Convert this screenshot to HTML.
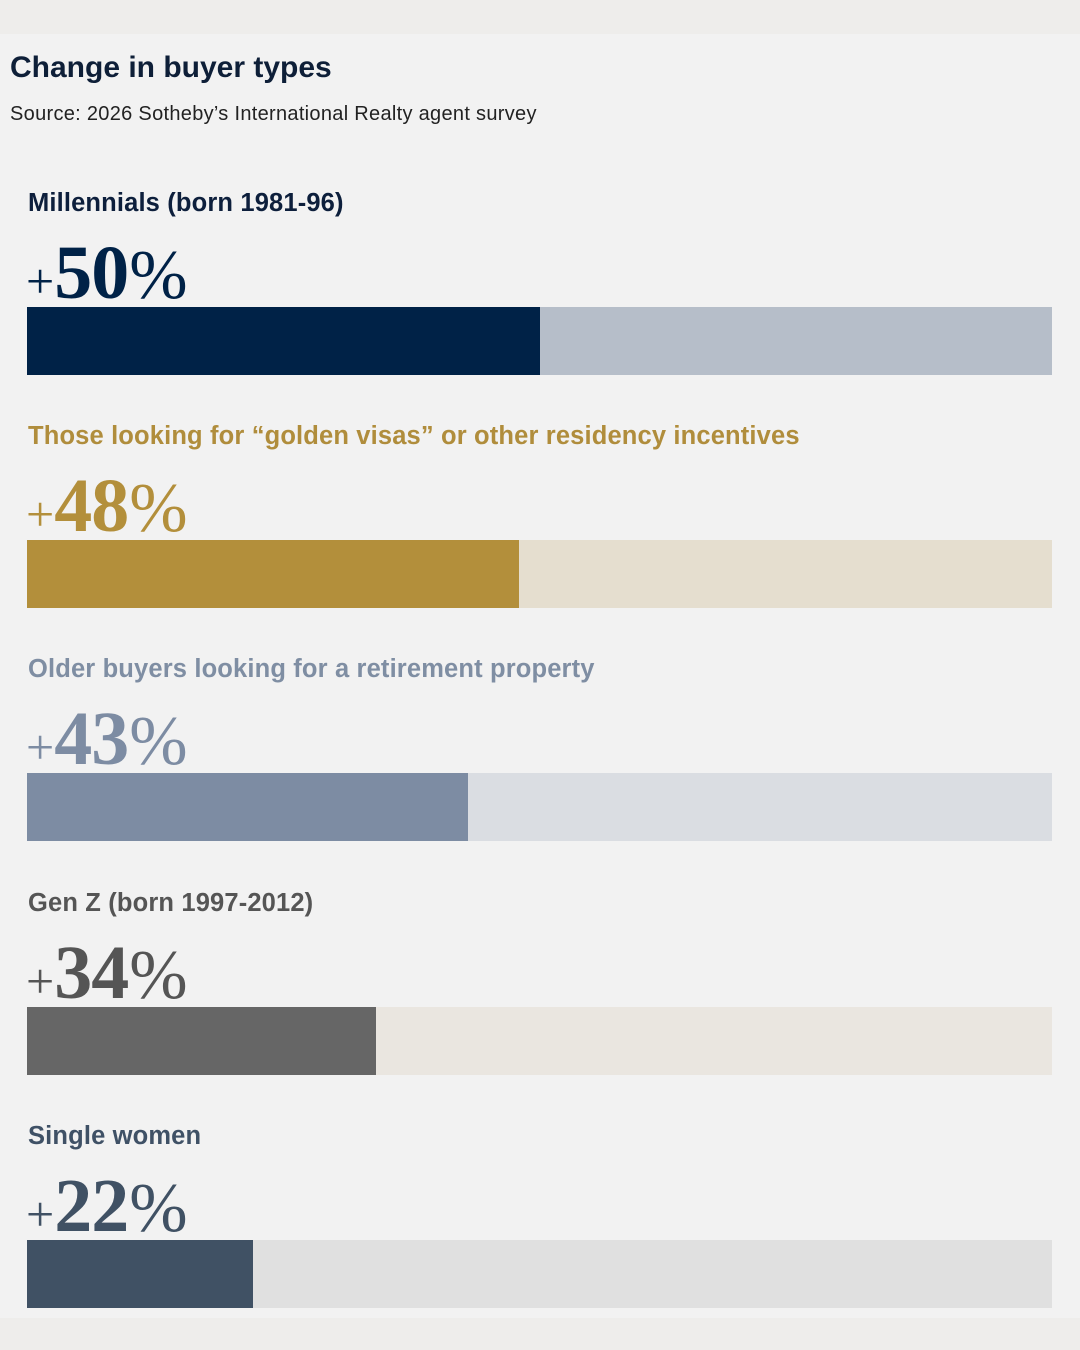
<!DOCTYPE html>
<html><head><meta charset="utf-8"><style>
body{margin:0;width:1080px;height:1350px;background:#eeedeb;font-family:"Liberation Sans",sans-serif;position:relative;overflow:hidden}
#panel{position:absolute;left:0;top:34px;width:1080px;height:1284px;background:#f2f2f2}
.t{position:absolute;white-space:nowrap}
#title{left:10px;top:51px;font-size:30px;font-weight:bold;color:#0e1f38;letter-spacing:0px}
#sub{left:10px;top:103px;font-size:20px;color:#222;letter-spacing:0.3px}
.lab{left:28px;font-size:25.5px;font-weight:bold;letter-spacing:0.15px}
.val{left:26px;font-family:"Liberation Serif",serif;font-size:76px;line-height:76px}
.val .p{font-size:50px;font-weight:normal}
.val .d{font-weight:bold;letter-spacing:-1px}
.val .pc{font-size:70px;font-weight:normal;margin-left:1px}
.bg,.fg{position:absolute;height:68px}
</style></head><body>
<div id="panel"></div>
<div class="t" id="title">Change in buyer types</div>
<div class="t" id="sub">Source: 2026 Sotheby’s International Realty agent survey</div>
<div id="chart"></div>
<script>
const categories=["Millennials (born 1981-96)","Those looking for “golden visas” or other residency incentives","Older buyers looking for a retirement property","Gen Z (born 1997-2012)","Single women"];
const values=[50,48,43,34,22];
const fillColors=["#002247","#b38f3b","#7d8ca3","#666666","#405164"];
const trackColors=["#b6bec9","#e5decf","#dadde2","#eae6e0","#e0e0e0"];
const labelColors=["#0d1f3c","#b08d3c","#7f8ea3","#555555","#3f5166"];
const x0=27,barW=1025,maxV=100;
function xs(v){return v/maxV*barW;}
const chart=document.getElementById('chart');
categories.forEach((c,i)=>{
  const top=307+i*233.2;
  const lab=document.createElement('div');
  lab.className='t lab';lab.style.top=(top-118)+'px';lab.style.color=labelColors[i];lab.textContent=c;
  
  
  chart.appendChild(lab);
  const val=document.createElement('div');
  val.className='t val';val.style.top=(top-72)+'px';val.style.color=labelColors[i]==="#555555"?"#555":fillColors[i];
  val.innerHTML='<span class="p">+</span><span class="d">'+values[i]+'</span><span class="pc">%</span>';
  
  
  chart.appendChild(val);
  const bg=document.createElement('div');
  bg.className='bg';bg.style.left=x0+'px';bg.style.top=top+'px';bg.style.width=barW+'px';bg.style.background=trackColors[i];
  
  
  chart.appendChild(bg);
  const fg=document.createElement('div');
  fg.className='fg';fg.style.left=x0+'px';fg.style.top=top+'px';fg.style.width=xs(values[i])+'px';fg.style.background=fillColors[i];
  
  
  chart.appendChild(fg);
});
</script>
</body></html>
